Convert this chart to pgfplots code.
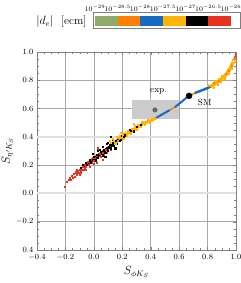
\documentclass[border=0pt]{standalone}
\usepackage{pgfplots}
\pgfplotsset{compat=1.18}
\definecolor{cgreen}{HTML}{8FAB6C}
\definecolor{corange}{HTML}{FF7F00}
\definecolor{cblue}{HTML}{1769C6}
\definecolor{cyellow}{HTML}{FFB400}
\definecolor{cred}{HTML}{E6321E}
\definecolor{gridc}{HTML}{A8A8A8}
\definecolor{framec}{HTML}{808080}
\begin{document}
\begin{tikzpicture}[x=1bp,y=1bp]
\useasboundingbox (0,0) rectangle (241,283);
\begin{axis}[at={(37bp,33bp)}, anchor=south west, width=199bp, height=198bp, scale only axis,
  xmin=-0.4, xmax=1.0, ymin=-0.4, ymax=1.0,
  xtick={-0.4,-0.2,0,0.2,0.4,0.6,0.8,1.0},
  xticklabels={$-0.4$,$-0.2$,$0.0$,$0.2$,$0.4$,$0.6$,$0.8$,$1.0$},
  ytick={-0.4,-0.2,0,0.2,0.4,0.6,0.8,1.0},
  yticklabels={$0.4$,$-0.2$,$0.0$,$0.2$,$0.4$,$0.6$,$0.8$,$1.0$},
  minor tick num=3,
  grid=major, major grid style={gridc, line width=0.5bp},
  axis line style={framec}, tick style={framec},
  major tick length=3bp, minor tick length=1.8bp,
  ticklabel style={font=\fontsize{8.5}{10}\selectfont},
  xticklabel style={yshift=-1bp},
  xlabel={$S_{\phi K_S}$}, ylabel={$S_{\eta' K_S}$},
  label style={font=\fontsize{12}{14}\selectfont},
  xlabel style={yshift=1bp},
  ylabel shift=-4bp,
  clip=true]
\addplot[black!12, line width=2bp] coordinates {(-0.4,0.4)(1.0,0.4)};
\addplot[black!12, line width=2bp] coordinates {(-0.4,0.0)(1.0,0.0)};
% experimental box
\addplot[fill=black!20, draw=none] coordinates {(0.27,0.525)(0.60,0.525)(0.60,0.66)(0.27,0.66)} -- cycle;
% red scatter (low end)
\addplot[only marks, mark=square*, mark size=0.55bp, cred] coordinates {
(-0.205,0.05)(-0.19,0.085)(-0.18,0.095)(-0.17,0.11)(-0.165,0.10)(-0.155,0.125)(-0.15,0.11)(-0.14,0.14)(-0.135,0.12)(-0.13,0.15)
(-0.12,0.135)(-0.115,0.16)(-0.11,0.145)(-0.10,0.17)(-0.095,0.15)(-0.09,0.18)(-0.085,0.165)(-0.08,0.19)(-0.075,0.17)(-0.07,0.20)
(-0.065,0.18)(-0.06,0.205)(-0.055,0.19)(-0.05,0.215)(-0.045,0.20)(-0.04,0.225)(-0.035,0.205)(-0.03,0.23)(-0.025,0.215)(-0.02,0.24)
(-0.015,0.22)(-0.01,0.25)(0,0.23)(0.005,0.255)(0.01,0.24)(0.02,0.27)(0.03,0.25)(0.04,0.28)(0.05,0.26)(0.06,0.29)
(0.07,0.27)(0.08,0.31)(0.09,0.29)(0.10,0.30)(0.12,0.31)(0.02,0.22)(-0.03,0.19)(0.06,0.24)(0.03,0.32)(-0.08,0.20)
(-0.1,0.13)(-0.12,0.17)(-0.06,0.17)(0.0,0.21)};
% black band
\addplot[black, line width=3bp] coordinates {(-0.07,0.19)(-0.04,0.215)(0,0.245)(0.04,0.275)(0.08,0.305)(0.12,0.335)(0.16,0.37)(0.2,0.40)};
\addplot[only marks, mark=square*, mark size=0.55bp, black] coordinates {
(-0.09,0.18)(-0.08,0.20)(-0.06,0.215)(-0.05,0.20)(-0.03,0.235)(-0.02,0.215)(0.0,0.26)(0.01,0.235)(0.02,0.275)(0.03,0.25)
(0.05,0.295)(0.06,0.27)(0.07,0.31)(0.08,0.29)(0.09,0.325)(0.10,0.305)(0.11,0.345)(0.12,0.32)(0.13,0.36)(0.14,0.335)
(0.15,0.375)(0.16,0.35)(0.17,0.39)(0.18,0.37)(0.19,0.405)(0.21,0.40)(0.04,0.31)(0.06,0.33)(0.09,0.35)(0.10,0.36)
(0.13,0.38)(0.12,0.40)(-0.01,0.28)(0.03,0.30)(0.25,0.45)(0.28,0.44)(0.08,0.26)(0.22,0.42)(0.15,0.32)};
% yellow lower band
\addplot[cyellow, line width=3bp] coordinates {(0.14,0.35)(0.16,0.37)(0.2,0.40)(0.25,0.43)(0.3,0.465)(0.35,0.495)(0.4,0.515)(0.44,0.535)};
\addplot[only marks, mark=square*, mark size=0.55bp, cyellow] coordinates {
(0.12,0.36)(0.14,0.37)(0.15,0.355)(0.17,0.395)(0.18,0.41)(0.20,0.42)(0.21,0.39)(0.22,0.43)(0.24,0.445)(0.26,0.42)
(0.27,0.455)(0.29,0.48)(0.30,0.45)(0.31,0.485)(0.33,0.47)(0.34,0.505)(0.36,0.485)(0.38,0.52)(0.39,0.50)(0.16,0.40)
(0.13,0.39)(0.19,0.43)(0.23,0.41)(0.28,0.49)(0.11,0.37)};
\addplot[only marks, mark=square*, mark size=0.5bp, black] coordinates {(0.19,0.38)(0.22,0.405)(0.26,0.44)(0.3,0.47)(0.33,0.485)};
% blue and orange middle segments
\addplot[cblue, line width=2bp] coordinates {(0.44,0.535)(0.5,0.57)(0.535,0.59)};
\addplot[corange, line width=1.6bp] coordinates {(0.535,0.59)(0.57,0.61)};
\addplot[cblue, line width=2bp] coordinates {(0.57,0.61)(0.62,0.65)(0.655,0.68)};
\addplot[corange, line width=1.6bp] coordinates {(0.67,0.69)(0.71,0.71)};
\addplot[cblue, line width=2.4bp] coordinates {(0.71,0.71)(0.75,0.725)(0.8,0.745)(0.82,0.755)};
% upper yellow band
\addplot[cyellow, line width=3.5bp] coordinates {(0.82,0.755)(0.86,0.78)(0.9,0.81)(0.93,0.84)(0.96,0.885)(0.98,0.93)};
\addplot[only marks, mark=square*, mark size=0.55bp, cyellow] coordinates {
(0.80,0.765)(0.83,0.77)(0.84,0.75)(0.85,0.795)(0.87,0.77)(0.88,0.81)(0.89,0.79)(0.91,0.83)(0.92,0.815)(0.94,0.86)
(0.95,0.845)(0.96,0.90)(0.97,0.88)(0.98,0.945)(0.99,0.93)(0.90,0.835)(0.86,0.80)};
\addplot[only marks, mark=square*, mark size=0.5bp, corange] coordinates {(0.84,0.78)(0.88,0.80)(0.93,0.85)(0.97,0.90)(0.95,0.87)(0.99,0.95)};
\addplot[cred, line width=1.5bp] coordinates {(0.985,0.945)(0.995,0.97)(1.0,0.995)};
% points
\addplot[only marks, mark=*, mark size=2.3bp, black!60] coordinates {(0.43,0.59)};
\addplot[only marks, mark=*, mark size=3bp, black] coordinates {(0.67,0.69)};
\node[font=\fontsize{9}{10}\selectfont] at (axis cs:0.455,0.72) {exp.};
\node[font=\fontsize{9}{10}\selectfont] at (axis cs:0.78,0.64) {SM};
\end{axis}
% colour bar
\begin{axis}[at={(92.7bp,254.3bp)}, anchor=south west, width=147.3bp, height=16bp, scale only axis,
  xmin=-29.05, xmax=-25.8, ymin=-0.26, ymax=1.29, ytick=\empty,
  xtick={-29,-28.5,-28,-27.5,-27,-26.5,-26},
  xticklabels={$10^{-29}$,$10^{-28.5}$,$10^{-28}$,$10^{-27.5}$,$10^{-27}$,$10^{-26.5}$,$10^{-26}$},
  xticklabel pos=right, major tick length=0bp,
  axis line style={framec},
  ticklabel style={font=\fontsize{7.5}{8}\selectfont, inner sep=0.5pt}]
\addplot[fill=cgreen, draw=none] coordinates {(-29,0)(-28.5,0)(-28.5,1)(-29,1)} -- cycle;
\addplot[fill=corange, draw=none] coordinates {(-28.5,0)(-28,0)(-28,1)(-28.5,1)} -- cycle;
\addplot[fill=cblue, draw=none] coordinates {(-28,0)(-27.5,0)(-27.5,1)(-28,1)} -- cycle;
\addplot[fill=cyellow, draw=none] coordinates {(-27.5,0)(-27,0)(-27,1)(-27.5,1)} -- cycle;
\addplot[fill=black, draw=none] coordinates {(-27,0)(-26.5,0)(-26.5,1)(-27,1)} -- cycle;
\addplot[fill=cred, draw=none] coordinates {(-26.5,0)(-26,0)(-26,1)(-26.5,1)} -- cycle;
\end{axis}
\node[anchor=east, font=\fontsize{11.5}{13}\selectfont] at (90bp,261.5bp) {$|d_e|$\ \ [ecm]};
\end{tikzpicture}
\end{document}
